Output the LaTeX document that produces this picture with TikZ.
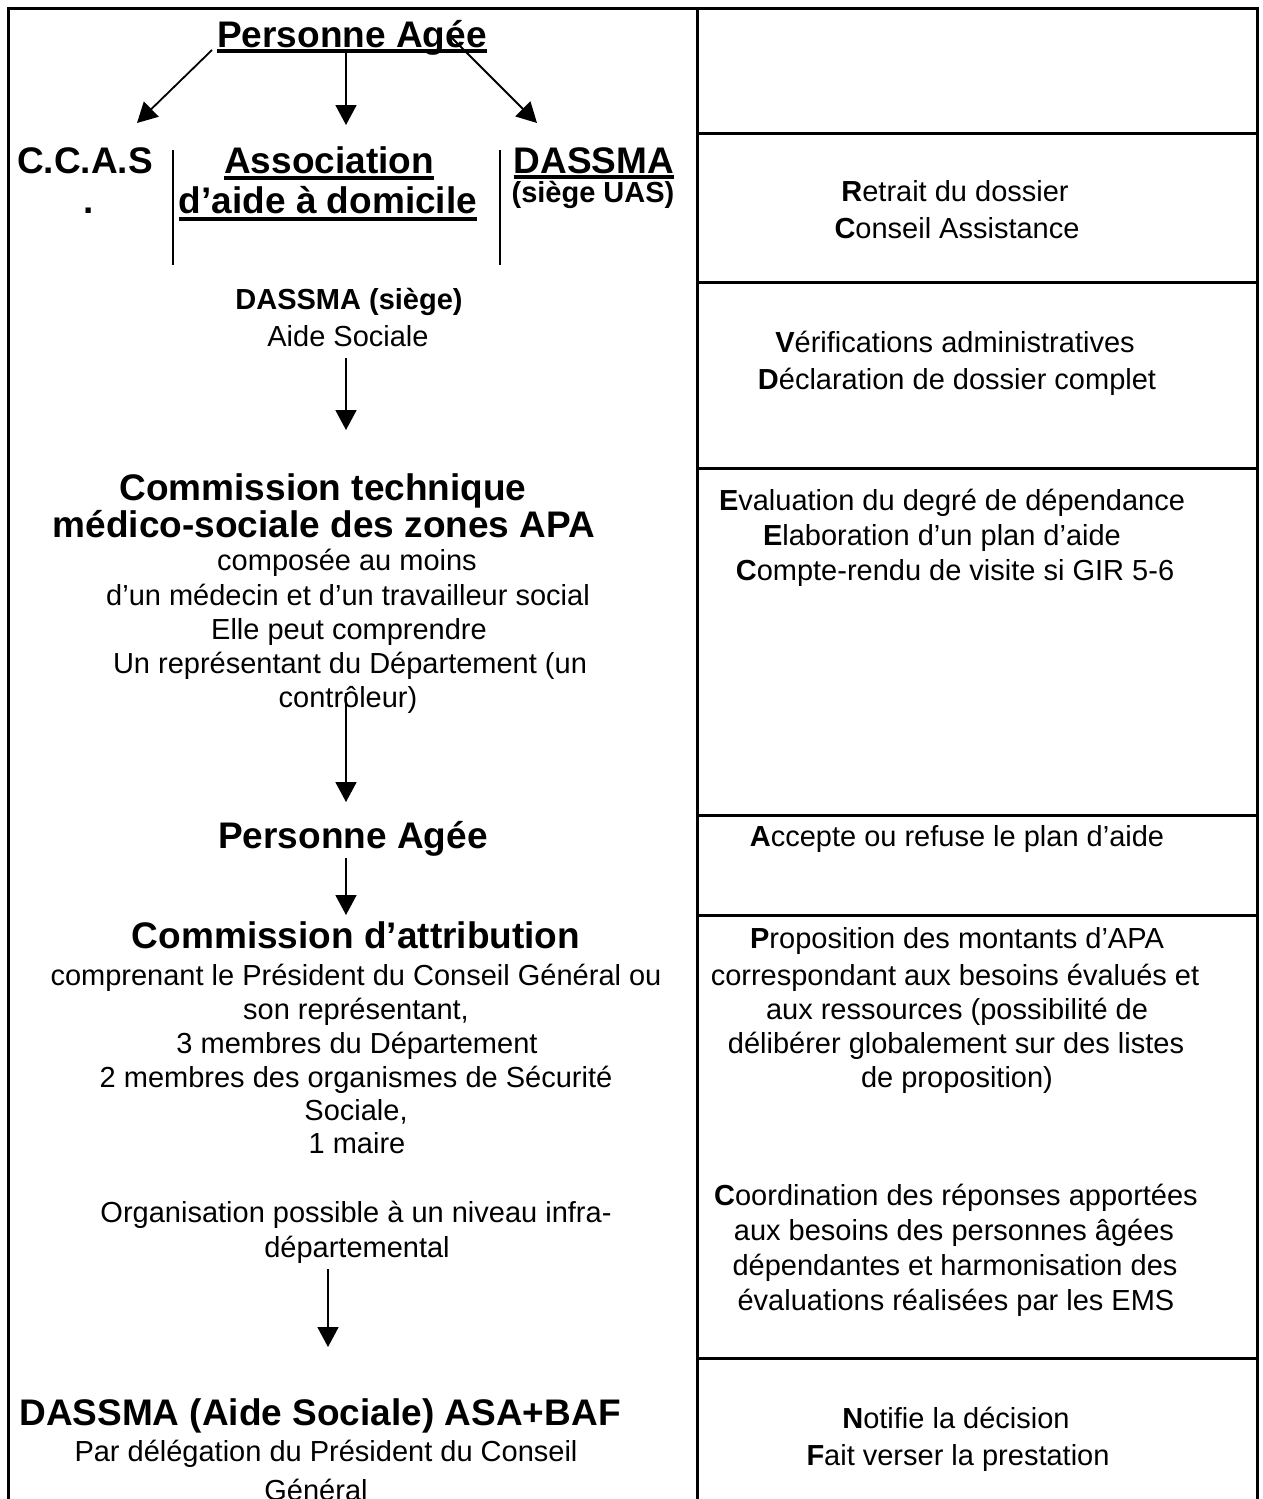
\documentclass[tikz,border=0pt]{standalone}
\usepackage{fontspec}
\setmainfont{Liberation Sans}
\usetikzlibrary{arrows.meta}
\begin{document}
\begin{tikzpicture}[x=1pt,y=-1pt,
  big/.style={font=\fontsize{37}{42}\selectfont\bfseries, inner sep=0pt, anchor=base},
  reg/.style={font=\fontsize{29}{34}\selectfont, inner sep=0pt, anchor=base},
  regb/.style={font=\fontsize{29}{34}\selectfont\bfseries, inner sep=0pt, anchor=base},
  frame/.style={line width=3pt},
  rowrule/.style={line width=3pt},
  sepline/.style={line width=1.5pt},
  arr/.style={line width=1.8pt, -{Triangle[width=21pt,length=20pt]}},
  uline/.style={line width=3.5pt}
]
\useasboundingbox (0,0) rectangle (1262,1499);
\fill[white] (0,0) rectangle (1262,1499);

% frame and table rules
\draw[frame] (8,1510) -- (8,8) -- (1257,8) -- (1257,1510);
\draw[frame] (697,8) -- (697,1510);
\draw[rowrule] (697,133) -- (1257,133);
\draw[rowrule] (697,282) -- (1257,282);
\draw[rowrule] (697,468) -- (1257,468);
\draw[rowrule] (697,815) -- (1257,815);
\draw[rowrule] (697,915) -- (1257,915);
\draw[rowrule] (697,1358) -- (1257,1358);

% ---- left column ----
\node[big] (pa) at (352,47) {Personne Agée};
\draw[uline] ([yshift=-4pt]pa.base west) -- ([yshift=-4pt]pa.base east);

\node[big] (ccas) at (85,173) {C.C.A.S};
\node[big] (ccasdot) at (89,213) {.};
\node[big] (assoc1) at (329,173) {Association};
\draw[uline] ([yshift=-5pt]assoc1.base west) -- ([yshift=-5pt]assoc1.base east);
\node[big] (assoc2) at (328,213) {d’aide à domicile};
\draw[uline] ([yshift=-6pt]assoc2.base west) -- ([yshift=-6pt]assoc2.base east);
\node[big] (dassma) at (594,173) {DASSMA};
\draw[uline] ([yshift=-4pt]dassma.base west) -- ([yshift=-4pt]dassma.base east);
\node[regb] (uas) at (593,202) {(siège UAS)};
\draw[sepline] (173,150) -- (173,265);
\draw[sepline] (500,150) -- (500,265);

\coordinate (a1s) at (212,50);  \coordinate (a1e) at (137,123);
\coordinate (a2s) at (346,52);  \coordinate (a2e) at (346,125);
\coordinate (a3s) at (451,37);  \coordinate (a3e) at (537,123);
\draw[arr] (a1s) -- (a1e);
\draw[arr] (a2s) -- (a2e);
\draw[arr] (a3s) -- (a3e);

\node[regb] (siege) at (349,309) {DASSMA (siège)};
\node[reg] (aidesoc) at (348,346) {Aide Sociale};
\coordinate (a4s) at (346,358); \coordinate (a4e) at (346,430);
\draw[arr] (a4s) -- (a4e);

\node[big] (ct1) at (323,500) {Commission technique};
\node[big] (ct2) at (324,537) {médico-sociale des zones APA};
\node[reg] (ctl1) at (347,570) {composée au moins};
\node[reg] (ctl2) at (348,605) {d’un médecin et d’un travailleur social};
\node[reg] (ctl3) at (349,639) {Elle peut comprendre};
\node[reg] (ctl4) at (350,673) {Un représentant du Département (un};
\node[reg] (ctl5) at (348,707) {contrôleur)};
\coordinate (a5s) at (346,693); \coordinate (a5e) at (346,802);
\draw[arr] (a5s) -- (a5e);

\node[big] (pa2) at (353,848) {Personne Agée};
\coordinate (a6s) at (346,858); \coordinate (a6e) at (346,915);
\draw[arr] (a6s) -- (a6e);

\node[big] (ca) at (356,948) {Commission d’attribution};
\node[reg] (cal1) at (356,985) {comprenant le Président du Conseil Général ou};
\node[reg] (cal2) at (356,1019) {son représentant,};
\node[reg] (cal3) at (357,1053) {3 membres du Département};
\node[reg] (cal4) at (356,1087) {2 membres des organismes de Sécurité};
\node[reg] (cal5) at (356,1120) {Sociale,};
\node[reg] (cal6) at (357,1153) {1 maire};
\node[reg] (org1) at (356,1222) {Organisation possible à un niveau infra-};
\node[reg] (org2) at (357,1257) {départemental};
\coordinate (a7s) at (328,1269); \coordinate (a7e) at (328,1347);
\draw[arr] (a7s) -- (a7e);

\node[big] (dasf) at (320,1425) {DASSMA (Aide Sociale) ASA+BAF};
\node[reg] (dasf1) at (326,1461) {Par délégation du Président du Conseil};
\node[reg] (dasf2) at (316,1500) {Général};

% ---- right column ----
\node[reg] (r1a) at (955,201) {\textbf{R}etrait du dossier};
\node[reg] (r1b) at (957,238) {\textbf{C}onseil Assistance};
\node[reg] (r2a) at (955,352) {\textbf{V}érifications administratives};
\node[reg] (r2b) at (957,389) {\textbf{D}éclaration de dossier complet};
\node[reg] (r3a) at (952,510) {\textbf{E}valuation du degré de dépendance};
\node[reg] (r3b) at (942,545) {\textbf{E}laboration d’un plan d’aide};
\node[reg] (r3c) at (955,580) {\textbf{C}ompte-rendu de visite si GIR 5-6};
\node[reg] (r4) at (957,846) {\textbf{A}ccepte ou refuse le plan d’aide};
\node[reg] (r5a) at (957,948) {\textbf{P}roposition des montants d’APA};
\node[reg] (r5b) at (955,985) {correspondant aux besoins évalués et};
\node[reg] (r5c) at (957,1019) {aux ressources (possibilité de};
\node[reg] (r5d) at (956,1053) {délibérer globalement sur des listes};
\node[reg] (r5e) at (957,1087) {de proposition)};
\node[reg] (r6a) at (956,1205) {\textbf{C}oordination des réponses apportées};
\node[reg] (r6b) at (954,1240) {aux besoins des personnes âgées};
\node[reg] (r6c) at (955,1275) {dépendantes et harmonisation des};
\node[reg] (r6d) at (956,1310) {évaluations réalisées par les EMS};
\node[reg] (r7a) at (956,1428) {\textbf{N}otifie la décision};
\node[reg] (r7b) at (958,1465) {\textbf{F}ait verser la prestation};
\end{tikzpicture}
\end{document}
